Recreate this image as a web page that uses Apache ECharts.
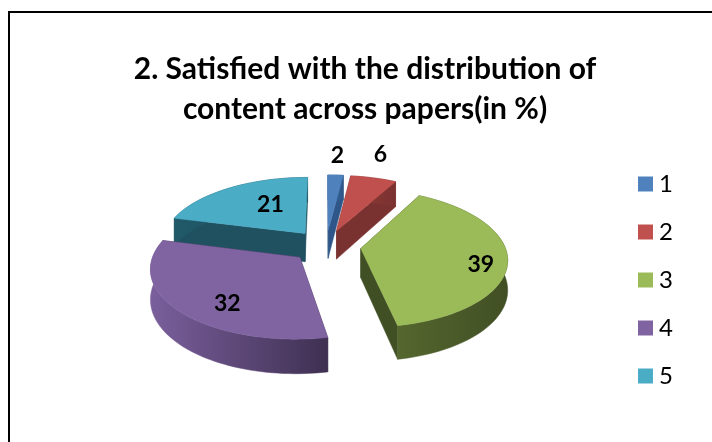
<!DOCTYPE html>
<html>
<head>
<meta charset="utf-8">
<style>html,body{margin:0;padding:0;background:#fff}#chart{width:712px;height:442px}</style>
<script src="https://cdn.jsdelivr.net/npm/echarts@6/dist/echarts.min.js"></script>
</head>
<body>
<div id="chart"></div>
<script>
const categories = ['1', '2', '3', '4', '5'];
const values = [2, 6, 39, 32, 21];
const topColors = ['#4F81BD', '#C0504D', '#9BBB59', '#8064A2', '#4BACC6'];
const sideLight = ['#3A6AA5', '#8E3B39', '#55662E', '#7A5F9C', '#215968'];
const sideDark = ['#2F5688', '#7A3230', '#414F24', '#3F3052', '#1F5160'];
// paint order, back slices first
const drawOrder = [4, 0, 1, 2, 3];
// where the value label sits: radius fraction, then a small nudge in px
const labelFrac = [1.12, 1.12, 0.78, 0.62, 0.62];
const labelNudge = [[1, -14], [3, -18], [6, 8], [0, 14], [14, 0]];

const CX = 326, CY = 246, RX = 144, RY = 67, DEPTH = 29, PERSP = 0.138, EXPLODE = 0.243;
const total = values.reduce((s, v) => s + v, 0);

function project(u, v, down) {
  const s = 1 / (1 - PERSP * v);
  return [CX + u * RX * s, CY + v * RY * s + (down ? DEPTH * s : 0)];
}

function sliceAngles(i) {
  const before = values.slice(0, i).reduce((s, v) => s + v, 0);
  return [before / total * Math.PI * 2, (before + values[i]) / total * Math.PI * 2];
}

function renderSlice(i) {
  return function (params, api) {
    const val = api.value(0);
    const [a0, a1] = sliceAngles(i);
    const mid = (a0 + a1) / 2;
    const ou = Math.sin(mid) * EXPLODE, ov = -Math.cos(mid) * EXPLODE;
    const rimAt = a => [ou + Math.sin(a), ov - Math.cos(a)];

    const steps = Math.max(4, Math.ceil((a1 - a0) * 30));
    const rim = [];
    for (let k = 0; k <= steps; k++) rim.push(rimAt(a0 + (a1 - a0) * k / steps));

    const top = [project(ou, ov, false)].concat(rim.map(p => project(p[0], p[1], false)));
    const rimTop = rim.map(p => project(p[0], p[1], false));
    const rimBottom = rim.map(p => project(p[0], p[1], true)).reverse();
    const apexT = project(ou, ov, false), apexB = project(ou, ov, true);
    const first = rim[0], last = rim[rim.length - 1];

    const xs = rimTop.map(p => p[0]);
    const minX = Math.min(...xs), maxX = Math.max(...xs);
    const rimFill = new echarts.graphic.LinearGradient(minX, 0, maxX, 0, [
      { offset: 0, color: sideLight[i] }, { offset: 1, color: sideDark[i] }
    ], true);

    const poly = (points, fill) => ({
      type: 'polygon', shape: { points: points },
      style: { fill: fill, stroke: fill, lineWidth: 0.5 }
    });

    const lf = labelFrac[i];
    const lp = project(ou + Math.sin(mid) * lf, ov - Math.cos(mid) * lf, false);

    return {
      type: 'group',
      children: [
        poly([apexT, project(first[0], first[1], false), project(first[0], first[1], true), apexB], sideDark[i]),
        poly([apexT, project(last[0], last[1], false), project(last[0], last[1], true), apexB], sideDark[i]),
        poly(rimTop.concat(rimBottom), rimFill),
        poly(top, topColors[i]),
        {
          type: 'text', z2: 100,
          style: {
            x: lp[0] + labelNudge[i][0], y: lp[1] + labelNudge[i][1],
            text: String(val), align: 'center', verticalAlign: 'middle',
            fill: '#000', font: 'bold 23px Lato, sans-serif'
          }
        }
      ]
    };
  };
}

const chart = echarts.init(document.getElementById('chart'), null, { renderer: 'canvas' });

chart.setOption({
  animation: false,
  backgroundColor: '#fff',
  title: {
    text: '2. Satisfied with the distribution of\ncontent across papers(in %)',
    left: 360, top: 44, textAlign: 'center',
    textStyle: { fontFamily: 'Lato, sans-serif', fontWeight: 'bold', fontSize: 30, lineHeight: 40, color: '#000' }
  },
  legend: {
    orient: 'vertical', left: 638, top: 172, padding: 0,
    icon: 'rect', itemWidth: 15, itemHeight: 15, itemGap: 24,
    data: categories,
    textStyle: { fontFamily: 'Lato, sans-serif', fontSize: 24, color: '#000', padding: [0, 0, 0, 1] }
  },
  graphic: [
    { type: 'rect', shape: { x: 8, y: 11, width: 704, height: 2 }, style: { fill: '#000' } },
    { type: 'rect', shape: { x: 8, y: 11, width: 2, height: 431 }, style: { fill: '#000' } }
  ],
  // legend order stays 1..5, paint order comes from z
  series: categories.map((name, i) => ({
    type: 'custom',
    name: name,
    coordinateSystem: 'none',
    z: 2 + drawOrder.indexOf(i),
    itemStyle: { color: topColors[i] },
    renderItem: renderSlice(i),
    data: [[values[i]]]
  }))
});
</script>
</body>
</html>
